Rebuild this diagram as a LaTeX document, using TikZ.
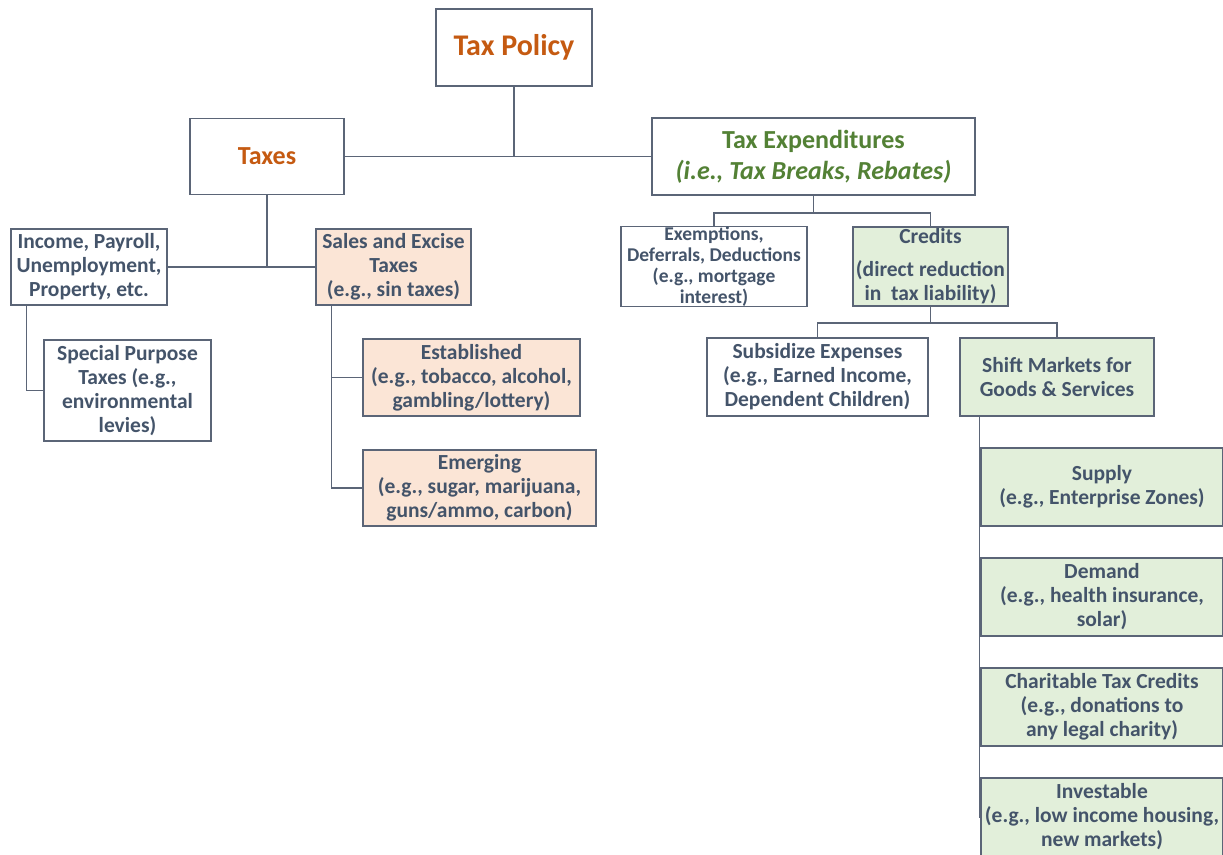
\documentclass[tikz,border=0pt]{standalone}
\usepackage{fontspec}
\setmainfont{Carlito}
\definecolor{linec}{HTML}{5B6577}
\definecolor{textc}{HTML}{44546A}
\definecolor{titlec}{HTML}{C55A11}
\definecolor{greent}{HTML}{538135}
\definecolor{peach}{HTML}{FBE5D6}
\definecolor{mint}{HTML}{E2EFDA}
\begin{document}
\begin{tikzpicture}
        [x=1pt,y=-1pt,
         box/.style={draw=linec, line width=1.5pt, fill=white, text=textc, align=center,
           inner sep=0pt, font=\bfseries\fontsize{21.5}{24}\selectfont},
         sin/.style={box, fill=peach},
         cred/.style={box, fill=mint},
         link/.style={draw=linec, line width=1.5pt}]
      \useasboundingbox (0,0) rectangle (1223,854);

      \node[box, minimum width=156pt, minimum height=77pt, text=titlec, font=\bfseries\fontsize{30}{34}\selectfont]
        (policy) at (514,47.5) {Tax Policy};
      \node[box, minimum width=154pt, minimum height=76pt, text=titlec, font=\bfseries\fontsize{26}{30}\selectfont]
        (taxes) at (267,156.5) {Taxes};
      \node[box, minimum width=323pt, minimum height=77pt, text=greent, font=\bfseries\fontsize{26}{31}\selectfont]
        (texp) at (813.5,156.5) {Tax Expenditures\\ \textit{(i.e., Tax Breaks, Rebates)}};

      % taxes side
      \node[box, minimum width=156pt, minimum height=76pt] (income) at (89,267) {Income, Payroll,\\ Unemployment,\\ Property, etc.};
      \node[sin, minimum width=155pt, minimum height=76pt] (sales) at (393.5,267) {Sales and Excise\\ Taxes\\ (e.g., sin taxes)};
      \node[box, minimum width=167pt, minimum height=101pt] (special) at (127.5,390.5) {Special Purpose\\ Taxes (e.g.,\\ environmental\\ levies)};
      \node[sin, minimum width=217pt, minimum height=77pt] (estab) at (471.5,377.5) {Established\\ (e.g., tobacco, alcohol,\\ gambling/lottery)};
      \node[sin, minimum width=233pt, minimum height=76pt] (emerg) at (479.5,488) {Emerging\\ (e.g., sugar, marijuana,\\ guns/ammo, carbon)};

      % expenditures side
      \node[box, minimum width=186pt, minimum height=79pt, font=\bfseries\fontsize{19.5}{21}\selectfont]
        (exempt) at (714,266.5) {Exemptions,\\ Deferrals, Deductions\\ (e.g., mortgage\\ interest)};
      \node[cred, minimum width=155pt, minimum height=79pt] (credits) at (930.5,266.5) {Credits\\[9pt] (direct reduction\\ in\ \ tax liability)};
      \node[box, minimum width=221pt, minimum height=78pt] (subs) at (817.5,377) {Subsidize Expenses\\ (e.g., Earned Income,\\ Dependent Children)};
      \node[cred, minimum width=194pt, minimum height=78pt] (shift) at (1057,377) {Shift Markets for\\ Goods \& Services};
      \node[cred, minimum width=242pt, minimum height=78pt] (supply) at (1102,487) {Supply\\ (e.g., Enterprise Zones)};
      \node[cred, minimum width=242pt, minimum height=78pt] (demand) at (1102,597) {Demand\\ (e.g., health insurance,\\ solar)};
      \node[cred, minimum width=242pt, minimum height=78pt] (charity) at (1102,707) {Charitable Tax Credits\\ (e.g., donations to\\ any legal charity)};
      \node[cred, minimum width=242pt, minimum height=78pt] (invest) at (1102,817) {Investable\\ (e.g., low income housing,\\ new markets)};

      \draw[link] (taxes.east) -- (texp.west);
      \draw[link] (policy.south) -- (policy.south |- texp.west);
      \draw[link] (taxes.south) -- (taxes.south |- sales.west);
      \draw[link] (income.east) -- (sales.west);
      \draw[link] ([xshift=16pt]income.south west) |- (special.west);
      \foreach \to in {estab, emerg}
        \draw[link] ([xshift=16pt]sales.south west) |- (\to.west);

      \draw[link] (texp.south) -- ++(0,17) coordinate (tefork);
      \draw[link] (exempt.north) |- (tefork) -| (credits.north);
      \draw[link] (credits.south) -- ++(0,16) coordinate (crfork);
      \draw[link] (subs.north) |- (crfork) -| (shift.north);
      \foreach \to in {supply, demand, charity, invest}
        \draw[link] ([xshift=20pt]shift.south west) |- (\to.west);
    \end{tikzpicture}
\end{document}
